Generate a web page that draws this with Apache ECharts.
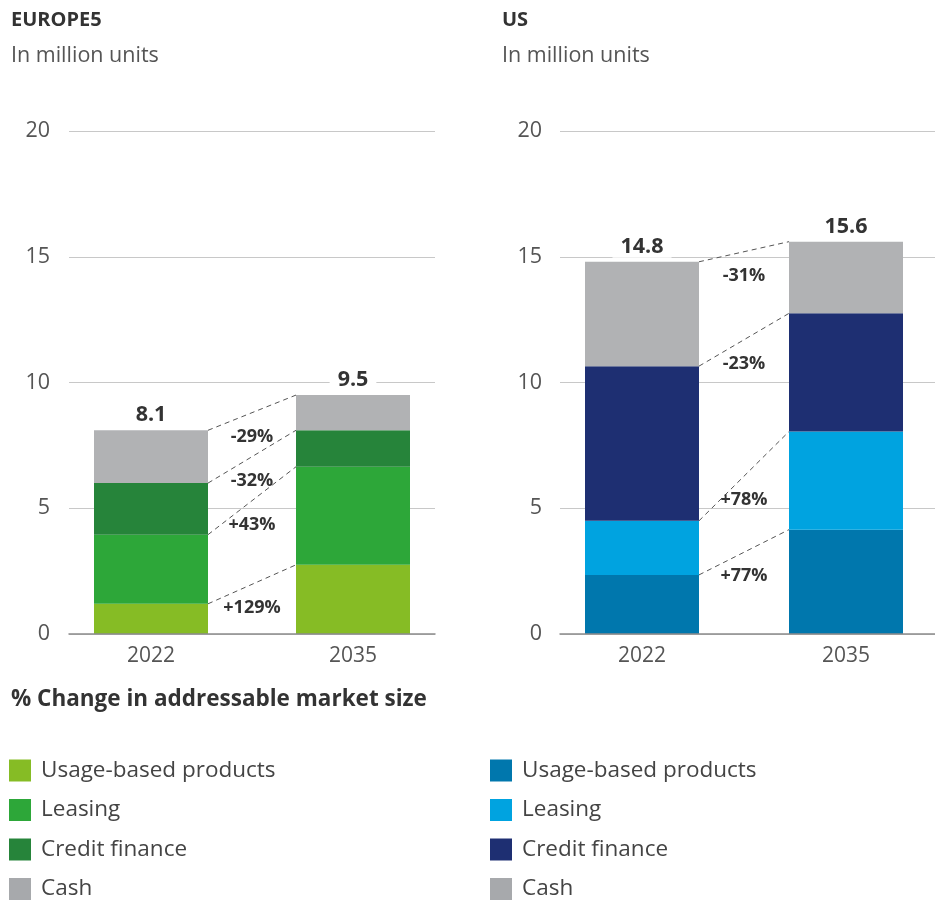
<!DOCTYPE html>
<html>
<head>
<meta charset="utf-8">
<script src="https://cdn.jsdelivr.net/npm/echarts@6/dist/echarts.min.js"></script>
<style>
  html, body { margin: 0; padding: 0; background: #fff; }
  #chart { width: 935px; height: 901px; }
</style>
</head>
<body>
<div id="chart"></div>
<script>
// data
const years = ['2022', '2035'];
const segments = ['Usage-based products', 'Leasing', 'Credit finance', 'Cash'];

// Europe5, million units per segment (2022, 2035)
const euUsage = [1.2, 2.75];
const euLeasing = [2.75, 3.9];
const euCredit = [2.05, 1.45];
const euCash = [2.1, 1.4];
const euChange = ['+129%', '+43%', '-32%', '-29%'];

// US
const usUsage = [2.35, 4.15];
const usLeasing = [2.15, 3.9];
const usCredit = [6.15, 4.7];
const usCash = [4.15, 2.85];
const usChange = ['+77%', '+78%', '-23%', '-31%'];

const yTicks = [0, 5, 10, 15, 20];

const euColors = ['#86BC25', '#2DA739', '#26843A', '#B1B2B4'];
const usColors = ['#0077AD', '#00A3E0', '#1E2F72', '#B1B2B4'];
const legendCash = '#A7A9AC';

const FONT = '"Open Sans", "Noto Sans", sans-serif';
const BAR_W = 114;

const chart = echarts.init(document.getElementById('chart'));

function cumTops(list) {
  // top of each segment for each year
  const out = [];
  let acc = [0, 0];
  list.forEach(arr => {
    acc = [acc[0] + arr[0], acc[1] + arr[1]];
    out.push([0, acc[0], acc[1]]);
  });
  return out;
}

function panelSeries(lists, colors, changes, xIdx, stack) {
  const totals = years.map((_, i) => lists.reduce((s, a) => s + a[i], 0));
  const series = lists.map((arr, k) => ({
    name: segments[k],
    type: 'bar',
    stack: stack,
    xAxisIndex: xIdx,
    yAxisIndex: xIdx,
    barWidth: BAR_W,
    clip: false,
    itemStyle: { color: colors[k] },
    silent: true,
    label: k === lists.length - 1 ? {
      show: true,
      position: 'top',
      distance: 4,
      formatter: p => totals[p.dataIndex].toFixed(1),
      fontFamily: FONT,
      fontSize: 21.5,
      fontWeight: 'bold',
      color: '#333',
      backgroundColor: '#fff',
      padding: [1, 8, 0, 8]
    } : { show: false },
    data: arr
  }));
  const tops = cumTops(lists);
  series.push({
    type: 'custom',
    xAxisIndex: xIdx,
    yAxisIndex: xIdx,
    silent: true,
    clip: false,
    z: 5,
    encode: { x: 0, y: [1, 2] },
    data: tops,
    renderItem: function (params, api) {
      const p1 = api.coord([0, api.value(1)]);
      const p2 = api.coord([1, api.value(2)]);
      const x1 = p1[0] + BAR_W / 2;
      const x2 = p2[0] - BAR_W / 2;
      const midY = (p1[1] + p2[1]) / 2;
      return {
        type: 'group',
        children: [
          {
            type: 'line',
            shape: { x1: x1, y1: p1[1], x2: x2, y2: p2[1] },
            style: { stroke: '#555', lineWidth: 1, lineDash: [5, 4] }
          },
          {
            type: 'text',
            style: {
              text: changes[params.dataIndex],
              x: (x1 + x2) / 2,
              y: midY + 24,
              align: 'center',
              verticalAlign: 'middle',
              font: 'bold 18px ' + FONT,
              fill: '#333'
            }
          }
        ]
      };
    }
  });
  return series;
}

function legendFor(colors, left) {
  return {
    orient: 'vertical',
    left: left,
    top: 759,
    icon: 'rect',
    itemWidth: 22,
    itemHeight: 22,
    itemGap: 16.5,
    padding: 0,
    selectedMode: false,
    textStyle: {
      fontFamily: FONT,
      fontSize: 22.5,
      color: '#444',
      padding: [5, 0, 0, 5]
    },
    data: segments.map((s, k) => ({
      name: s,
      itemStyle: { color: k === 3 ? legendCash : colors[k] }
    }))
  };
}

const gridAxisY = (gi, margin) => ({
  gridIndex: gi,
  type: 'value',
  min: yTicks[0],
  max: yTicks[yTicks.length - 1],
  interval: 5,
  axisLine: { show: false },
  axisTick: { show: false },
  axisLabel: { fontFamily: FONT, fontSize: 21.5, color: '#555', margin: margin },
  splitLine: { lineStyle: { color: '#C8C8C8', width: 1 } }
});
const barAxisY = gi => ({
  gridIndex: gi, type: 'value', min: 0, max: 20, show: false
});
const baseAxisX = gi => ({
  gridIndex: gi,
  type: 'category',
  data: years,
  z: 10,
  axisLine: { show: true, lineStyle: { color: '#8C8C8C', width: 1.5 } },
  axisTick: { show: false },
  axisLabel: { show: false },
  splitLine: { show: false }
});
// bar axis: categories sit on the grid edges so the two bars can be placed exactly
const barAxisX = gi => ({
  gridIndex: gi,
  type: 'category',
  data: years,
  boundaryGap: false,
  axisLine: { show: false },
  axisTick: { show: false },
  axisLabel: { fontFamily: FONT, fontSize: 21, color: '#555', margin: 12 },
  splitLine: { show: false }
});

const titleStyle = (size, bold) => ({
  fontFamily: FONT, fontSize: size, fontWeight: bold ? 'bold' : 'normal', color: bold ? '#333' : '#555'
});

const option = {
  animation: false,
  backgroundColor: '#fff',
  title: [
    { text: 'EUROPE5', left: 11, top: 10, padding: 0, textStyle: titleStyle(20, true) },
    { text: 'In million units', left: 11, top: 45, padding: 0, textStyle: titleStyle(21.5, false) },
    { text: 'US', left: 502, top: 10, padding: 0, textStyle: titleStyle(20, true) },
    { text: 'In million units', left: 502, top: 45, padding: 0, textStyle: titleStyle(21.5, false) },
    { text: '% Change in addressable market size', left: 11, top: 688, padding: 0, textStyle: titleStyle(22.5, true) }
  ],
  legend: [legendFor(euColors, 9), legendFor(usColors, 490)],
  grid: [
    { left: 69, width: 366, top: 131, height: 503 },
    { left: 151, width: 202, top: 131, height: 503 },
    { left: 560, width: 375, top: 131, height: 503 },
    { left: 642, width: 204, top: 131, height: 503 }
  ],
  xAxis: [baseAxisX(0), barAxisX(1), baseAxisX(2), barAxisX(3)],
  yAxis: [gridAxisY(0, 19), barAxisY(1), gridAxisY(2, 18), barAxisY(3)],
  series: [].concat(
    panelSeries([euUsage, euLeasing, euCredit, euCash], euColors, euChange, 1, 'eu'),
    panelSeries([usUsage, usLeasing, usCredit, usCash], usColors, usChange, 3, 'us')
  )
};

chart.setOption(option);
</script>
</body>
</html>
